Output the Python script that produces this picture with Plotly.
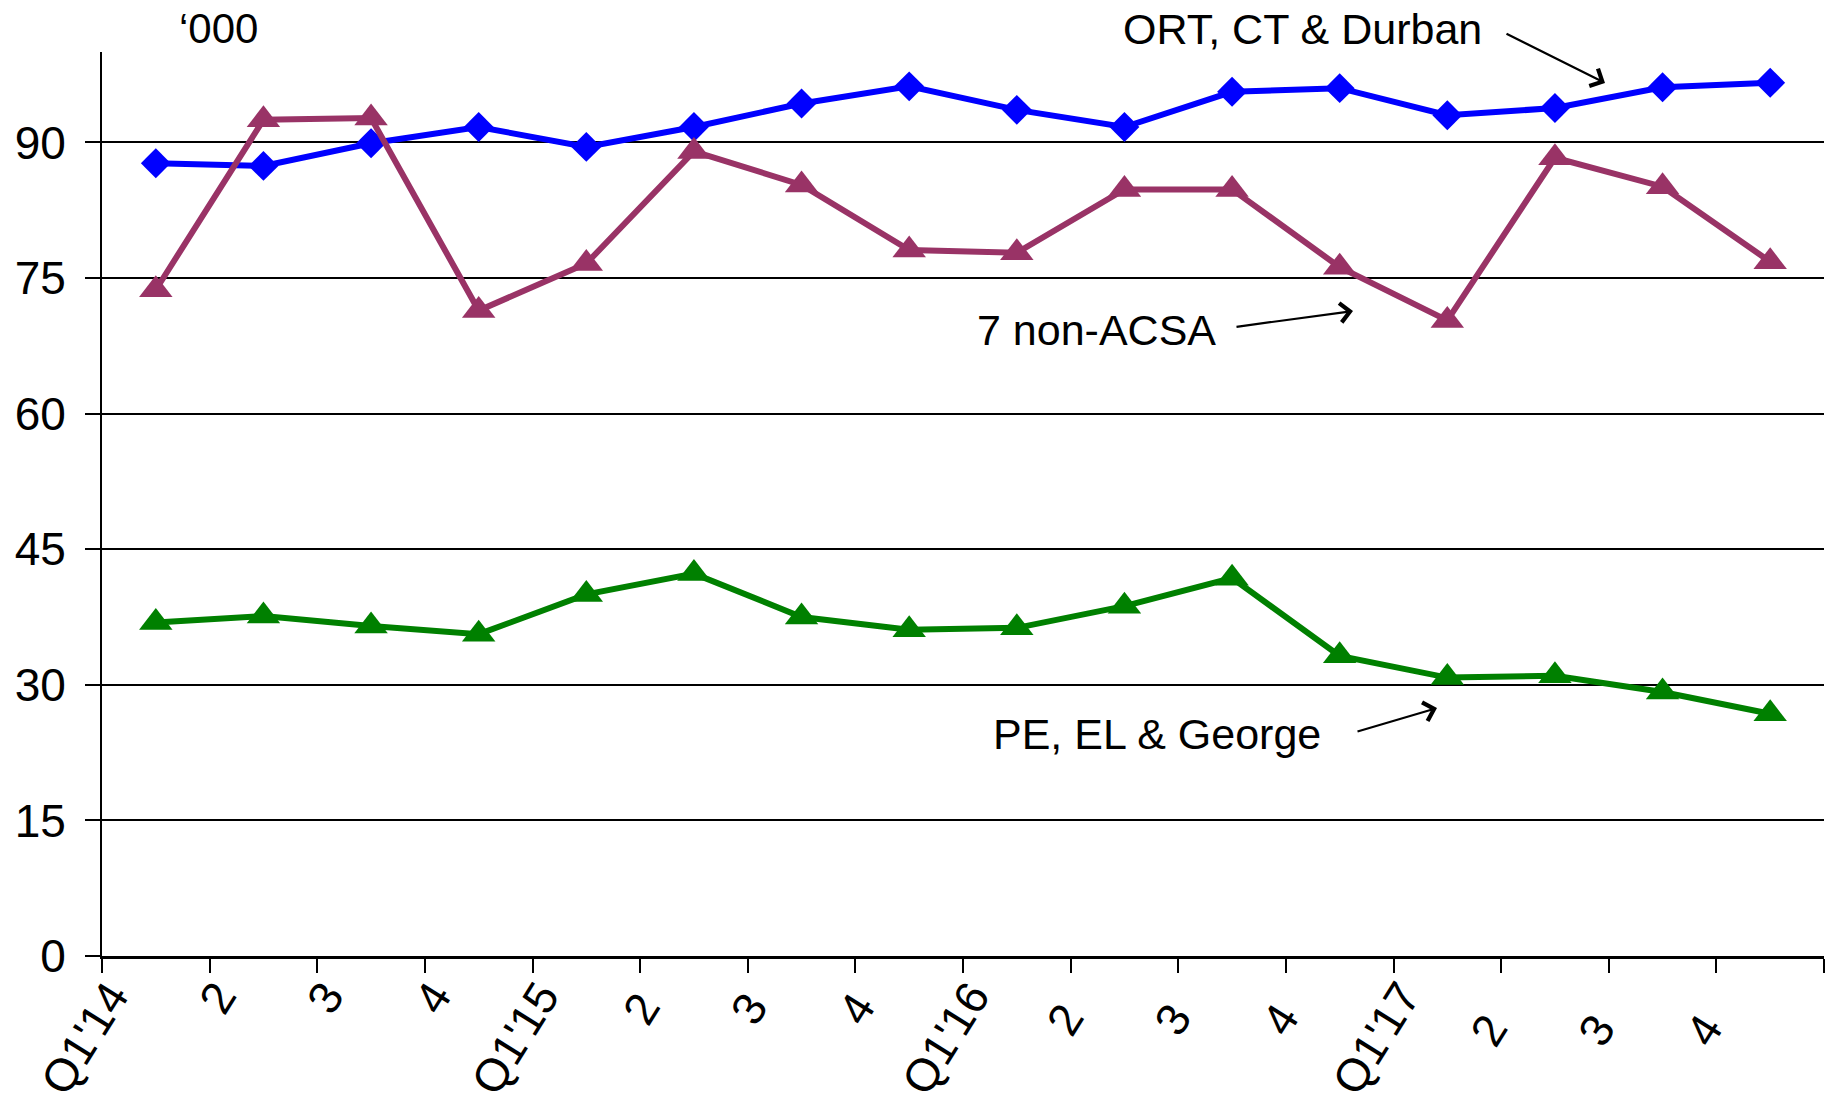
import plotly.graph_objects as go

quarters = ["Q1'14", "2", "3", "4", "Q1'15", "2 ", "3 ", "4 ",
            "Q1'16", "2  ", "3  ", "4  ", "Q1'17", "2   ", "3   ", "4   "]
ort_ct_durban = [87.7, 87.4, 89.9, 91.7, 89.5, 91.7, 94.3, 96.2,
                 93.6, 91.7, 95.6, 96.0, 93.0, 93.8, 96.1, 96.6]
non_acsa = [73.7, 92.5, 92.7, 71.4, 76.6, 89.0, 85.3, 78.1,
            77.8, 84.8, 84.8, 76.2, 70.3, 88.3, 85.1, 76.8]
pe_el_george = [36.9, 37.6, 36.5, 35.6, 40.0, 42.3, 37.5, 36.1,
                36.3, 38.7, 41.8, 33.2, 30.8, 31.0, 29.2, 26.8]
y_ticks = [0, 15, 30, 45, 60, 75, 90]

FONT = "Liberation Sans, Arial, sans-serif"

W, H = 1826, 1109
PL, PR, PT, PB = 102, 1824, 52, 956  # plot area in page pixels
PW, PH = PR - PL, PB - PT


def px(x):
    return (x - PL) / PW


def py(y):
    return (PB - y) / PH


fig = go.Figure()
fig.add_trace(go.Scatter(x=quarters, y=ort_ct_durban, mode="lines+markers",
                         line=dict(color="#0000FF", width=6),
                         marker=dict(symbol="diamond", size=23, color="#0000FF"),
                         name="ORT, CT & Durban"))
fig.add_trace(go.Scatter(x=quarters, y=non_acsa, mode="lines+markers",
                         line=dict(color="#993366", width=6),
                         marker=dict(symbol="triangle-up", size=29, color="#993366"),
                         name="7 non-ACSA"))
fig.add_trace(go.Scatter(x=quarters, y=pe_el_george, mode="lines+markers",
                         line=dict(color="#008000", width=6),
                         marker=dict(symbol="triangle-up", size=29, color="#008000"),
                         name="PE, EL & George"))

ann_font = dict(family=FONT, size=43, color="black")
annotations = [
    dict(text="‘000", xref="paper", yref="paper", x=px(218), y=py(29),
         showarrow=False, font=dict(family=FONT, size=42, color="black"),
         xanchor="center", yanchor="middle"),
    dict(text="ORT, CT & Durban", xref="paper", yref="paper",
         x=px(1302), y=py(29), showarrow=False, font=ann_font,
         xanchor="center", yanchor="middle"),
    dict(text="7 non-ACSA", xref="paper", yref="paper",
         x=px(1096), y=py(330), showarrow=False, font=ann_font,
         xanchor="center", yanchor="middle"),
    dict(text="PE, EL & George", xref="paper", yref="paper",
         x=px(1157), y=py(734), showarrow=False, font=ann_font,
         xanchor="center", yanchor="middle"),
]
arrows = [((1505, 33), (1605, 83)), ((1235, 327), (1353, 311)), ((1356, 732), (1437, 708))]
for (x0, y0), (x1, y1) in arrows:
    annotations.append(dict(
        xref="paper", yref="paper",
        x=px(x1), y=py(y1),
        ax=x0 - x1, ay=y0 - y1,
        text="", showarrow=True, arrowhead=4, arrowsize=1.7, arrowwidth=2.2,
        arrowcolor="black"))

fig.update_layout(
    width=W, height=H,
    margin=dict(l=PL, r=W - PR, t=PT, b=H - PB),
    paper_bgcolor="white", plot_bgcolor="white",
    showlegend=False,
    font=dict(family=FONT, size=44, color="black"),
    annotations=annotations,
    xaxis=dict(type="category", tickson="boundaries", ticks="outside", ticklen=14,
               tickwidth=2, tickcolor="black", showline=True, linecolor="black",
               linewidth=3, showgrid=False, tickangle=-58, ticklabelshift=-45,
               ticklabelstandoff=-8,
               tickfont=dict(family=FONT, size=46, color="black"),
               range=[-0.5, 15.5], zeroline=False, automargin=False),
    yaxis=dict(range=[0, 100], tickvals=y_ticks, ticks="outside", ticklen=15,
               tickwidth=2, tickcolor="black", showline=True, linecolor="black",
               linewidth=2, showgrid=True, gridcolor="black", gridwidth=2,
               zeroline=False, ticklabelstandoff=10, automargin=False,
               tickfont=dict(family=FONT, size=46, color="black")),
)

fig.write_html("out.html", config={"displayModeBar": False},
               post_script="document.body.style.margin='0px';"
                           "document.body.style.overflow='hidden';")
